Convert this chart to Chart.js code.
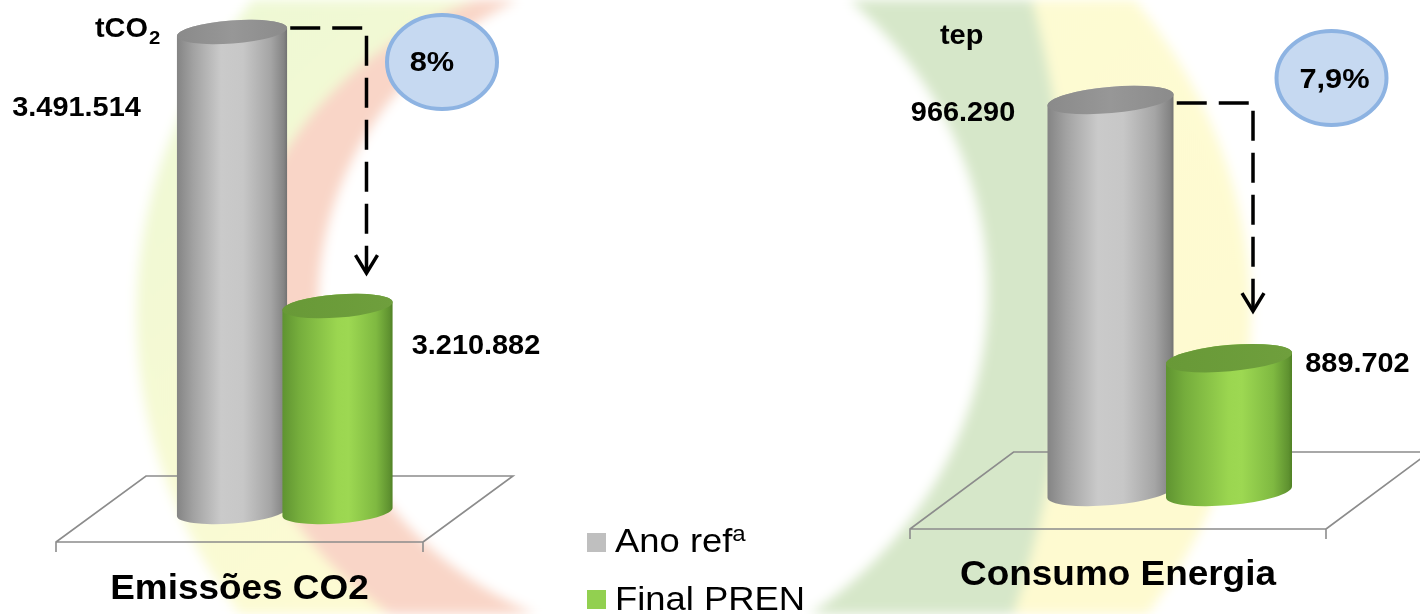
<!DOCTYPE html>
<html lang="pt">
<head>
<meta charset="utf-8">
<title>Emissões CO2 e Consumo Energia</title>
<script src="https://cdn.jsdelivr.net/npm/chart.js@4.4.1/dist/chart.umd.min.js"></script>
<style>
  html, body { margin: 0; padding: 0; background: #fff; }
  #stage { position: relative; width: 1420px; height: 614px; overflow: hidden; font-family: "Liberation Sans", Arial, sans-serif; }
  #bg { position: absolute; left: 0; top: 0; filter: blur(6px); }
  #chartCO2 { position: absolute; left: 0; top: 0; }
  #chartEnergia { position: absolute; left: 860px; top: 0; }
  .sw { position: absolute; left: 587px; width: 19px; height: 19px; }
  .lt { position: absolute; left: 615px; font-size: 32.5px; line-height: 32.5px; color: #000; white-space: nowrap; transform: scaleX(1.12); transform-origin: 0 0; }
  .lt sup { font-size: 0.66em; line-height: 0; vertical-align: baseline; position: relative; top: -0.52em; }
</style>
</head>
<body>
<div id="stage">
  <canvas id="bg" width="1420" height="614"></canvas>
  <canvas id="chartCO2" width="560" height="614"></canvas>
  <canvas id="chartEnergia" width="560" height="614"></canvas>
  <div class="sw" style="top:533px;background:#bfbfbf"></div>
  <div class="lt" style="top:525px">Ano ref<sup>a</sup></div>
  <div class="sw" style="top:590px;background:#92d050"></div>
  <div class="lt" style="top:583px">Final PREN</div>
</div>
<script>
// data
const categories = ['Emissões CO2', 'Consumo Energia'];
const seriesNames = ['Ano refª', 'Final PREN'];
const anoRef = [3491514, 966290];
const finalPren = [3210882, 889702];
const reductions = ['8%', '7,9%'];
const units = [['tCO', '2'], ['tep', '']];
const yMin = [3000000, 850000];
const yMax = [3500000, 970000];

// cylinder shading, one entry per dataset
const CYL = [
  {
    body: [[0, '#848484'], [0.15, '#a2a2a2'], [0.4, '#cacaca'], [0.6, '#c7c7c7'], [0.85, '#a5a5a5'], [0.97, '#848484'], [1, '#707070']],
    top: [[0, '#8a8a8a'], [0.5, '#979797'], [1, '#8b8b8b']]
  },
  {
    body: [[0, '#5f9331'], [0.15, '#75ad3c'], [0.5, '#9bd650'], [0.6, '#9dd852'], [0.85, '#7fb941'], [0.97, '#5f9230'], [1, '#4f8023']],
    top: [[0, '#689937'], [1, '#6f9f3d']]
  }
];

const fmt = v => String(v).replace(/\B(?=(\d{3})+(?!\d))/g, '.');

function txt(ctx, s, x, y, size, align, sx, weight) {
  ctx.save();
  ctx.font = (weight || 'bold') + ' ' + size + 'px "Liberation Sans", Arial, sans-serif';
  ctx.textBaseline = 'alphabetic';
  ctx.textAlign = align;
  ctx.translate(x, y);
  ctx.scale(sx, 1);
  ctx.fillStyle = '#000';
  ctx.fillText(s, 0, 0);
  const w = ctx.measureText(s).width * sx;
  ctx.restore();
  return w;
}

function grad(ctx, x0, x1, stops) {
  const g = ctx.createLinearGradient(x0, 0, x1, 0);
  stops.forEach(s => g.addColorStop(s[0], s[1]));
  return g;
}

function drawCylinder(ctx, bar, style, tilt, ryRatio) {
  const rx = bar.width / 2, ry = bar.width * ryRatio;
  const cx = bar.x, top = bar.y, bot = bar.base;
  const ex = rx * Math.cos(tilt), ey = rx * Math.sin(tilt);
  ctx.save();
  ctx.beginPath();
  ctx.moveTo(cx - ex, top - ey);
  ctx.lineTo(cx - ex, bot - ey);
  ctx.ellipse(cx, bot, rx, ry, tilt, Math.PI, 0, true);
  ctx.lineTo(cx + ex, top + ey);
  ctx.ellipse(cx, top, rx, ry, tilt, 0, Math.PI, true);
  ctx.closePath();
  ctx.fillStyle = grad(ctx, cx - rx, cx + rx, style.body);
  ctx.fill();
  ctx.beginPath();
  ctx.ellipse(cx, top, rx, ry, tilt, 0, Math.PI * 2);
  ctx.fillStyle = grad(ctx, cx - rx, cx + rx, style.top);
  ctx.fill();
  ctx.restore();
}

const cylinderPlugin = {
  id: 'cyl',
  beforeDatasetsDraw(chart, args, o) {
    const { ctx, chartArea } = chart;
    const base = chart.scales.y.getPixelForValue(chart.scales.y.min);
    const x0 = (chartArea.left + chartArea.right) / 2 + o.floor.dx;
    const fy = base + o.floor.front, by = base + o.floor.back;
    const hw = o.floor.hw, sh = o.floor.shift;
    ctx.save();
    ctx.strokeStyle = '#8c8c8c';
    ctx.lineWidth = 1.6;
    ctx.beginPath();
    ctx.moveTo(x0 - hw, fy + o.floor.tick);
    ctx.lineTo(x0 - hw, fy);
    ctx.lineTo(x0 - hw + sh, by);
    ctx.lineTo(x0 + hw + sh, by);
    ctx.lineTo(x0 + hw, fy);
    ctx.lineTo(x0 + hw, fy + o.floor.tick);
    ctx.moveTo(x0 - hw, fy);
    ctx.lineTo(x0 + hw, fy);
    ctx.stroke();
    ctx.restore();
  },
  afterDatasetsDraw(chart, args, o) {
    const { ctx, chartArea } = chart;
    const bars = chart.data.datasets.map((ds, i) => chart.getDatasetMeta(i).data[0]);
    bars.forEach((b, i) => drawCylinder(ctx, b, CYL[i], o.tilt, o.ryRatio));

    // value labels
    chart.data.datasets.forEach((ds, i) => {
      const b = bars[i], L = o.values[i];
      const x = L.align === 'right' ? b.x - b.width / 2 + L.dx : b.x + b.width / 2 + L.dx;
      txt(ctx, fmt(ds.data[0]), x, b.y + L.dy, 27, L.align, 1.07);
    });

    // dashed arrow from the reference bar down to the final one
    const g = bars[0], f = bars[1];
    const ax = f.x + o.arrow.dx, ay = g.y + o.arrow.dy, ey = f.y + o.arrow.end;
    ctx.save();
    ctx.strokeStyle = '#000';
    ctx.lineWidth = 3.5;
    ctx.setLineDash([30, 12]);
    ctx.beginPath();
    ctx.moveTo(g.x + g.width / 2 + 3, ay);
    ctx.lineTo(ax, ay);
    ctx.lineTo(ax, ey - 2);
    ctx.stroke();
    ctx.setLineDash([]);
    ctx.beginPath();
    ctx.moveTo(ax - 11, ey - 18);
    ctx.lineTo(ax, ey);
    ctx.lineTo(ax + 11, ey - 18);
    ctx.stroke();
    ctx.restore();

    // reduction bubble
    ctx.save();
    ctx.beginPath();
    ctx.ellipse(o.bubble.x, o.bubble.y, 55, 47, 0, 0, Math.PI * 2);
    ctx.fillStyle = '#c6d9f1';
    ctx.fill();
    ctx.lineWidth = 4;
    ctx.strokeStyle = '#8db3e2';
    ctx.stroke();
    ctx.restore();
    txt(ctx, reductions[o.idx], o.bubble.x + o.bubble.tdx, o.bubble.y + o.bubble.tdy, 28, 'center', 1.1);

    // unit
    const u = units[o.idx];
    const w = txt(ctx, u[0], o.unit.x, o.unit.y, 27, 'left', 1.07);
    if (u[1]) txt(ctx, u[1], o.unit.x + w + 1, o.unit.y + 7, 19, 'left', 1.07);

    // category label under the floor
    const cx = (chartArea.left + chartArea.right) / 2 + o.floor.dx;
    txt(ctx, chart.data.labels[0], cx, g.base + o.catDy, 35.5, 'center', 1.04);
  }
};

function buildChart(id, i, pad, catPct, barPct, deco) {
  const ds = (label, v) => ({
    label: label,
    data: [v],
    base: yMin[i],
    backgroundColor: 'rgba(0,0,0,0)',
    borderWidth: 0,
    categoryPercentage: catPct,
    barPercentage: barPct
  });
  return new Chart(document.getElementById(id), {
    type: 'bar',
    data: {
      labels: [categories[i]],
      datasets: [ds(seriesNames[0], anoRef[i]), ds(seriesNames[1], finalPren[i])]
    },
    options: {
      responsive: false,
      animation: false,
      events: [],
      layout: { padding: pad },
      scales: {
        x: { display: false },
        y: { display: false, min: yMin[i], max: yMax[i] }
      },
      plugins: {
        legend: { display: false },
        tooltip: { enabled: false },
        cyl: deco
      }
    },
    plugins: [cylinderPlugin]
  });
}

function drawBackdrop() {
  const ctx = document.getElementById('bg').getContext('2d');
  ctx.fillStyle = '#fff';
  ctx.fillRect(0, 0, 1420, 614);
  ctx.save();
  ctx.translate(672, 275);
  ctx.scale(1.082, 1);
  const circ = (x, y, r) => { ctx.moveTo(x + r, y); ctx.arc(x, y, r, 0, Math.PI * 2); };

  // yellow halo
  const yg = ctx.createLinearGradient(-400, -300, 300, 400);
  yg.addColorStop(0, '#edf8d4');
  yg.addColorStop(0.5, '#fdfbd3');
  yg.addColorStop(1, '#fefad0');
  ctx.beginPath();
  circ(20, 40, 515);
  ctx.fillStyle = yg;
  ctx.fill();

  // red crescent on the left
  ctx.save();
  ctx.beginPath();
  circ(-52, 54, 353);
  ctx.clip();
  ctx.beginPath();
  ctx.rect(-700, -400, 1400, 900);
  circ(14, 28, 341);
  ctx.fillStyle = '#f9d5c7';
  ctx.fill('evenodd');
  ctx.restore();

  // green crescent on the right
  ctx.save();
  ctx.beginPath();
  ctx.rect(0, -400, 700, 900);
  ctx.clip();
  ctx.beginPath();
  circ(-788, 1, 1154);
  ctx.clip();
  ctx.beginPath();
  ctx.rect(-700, -400, 1400, 900);
  circ(-105, 17, 397);
  ctx.fillStyle = '#d6e7c9';
  ctx.fill('evenodd');
  ctx.restore();

  // white core
  ctx.save();
  ctx.beginPath();
  circ(14, 28, 341);
  ctx.clip();
  ctx.beginPath();
  circ(-105, 17, 397);
  ctx.fillStyle = '#fff';
  ctx.fill();
  ctx.restore();

  ctx.restore();
}

drawBackdrop();

buildChart('chartCO2', 0, { left: 100, right: 90.5, top: 23.7, bottom: 102 }, 0.571, 1.047, {
  idx: 0, tilt: -0.075, ryRatio: 0.105,
  floor: { dx: -45.25, hw: 183.5, shift: 90, back: -36, front: 30, tick: 10 },
  values: [{ dx: -36, dy: 84, align: 'right' }, { dx: 19, dy: 48, align: 'left' }],
  arrow: { dx: 29, dy: -4, end: -33 },
  bubble: { x: 442, y: 62, tdx: -10, tdy: 9 },
  unit: { x: 95, y: 37 },
  catDy: 87
});

buildChart('chartEnergia', 1, { left: 100, right: 40.5, top: 87.5, bottom: 122 }, 0.565, 1.0675, {
  idx: 1, tilt: -0.09, ryRatio: 0.104,
  floor: { dx: -51.75, hw: 208, shift: 103.6, back: -40, front: 37, tick: 10 },
  values: [{ dx: -32, dy: 21, align: 'right' }, { dx: 13, dy: 14, align: 'left' }],
  arrow: { dx: 24, dy: 3, end: -47 },
  bubble: { x: 471.5, y: 78, tdx: 3, tdy: 10 },
  unit: { x: 80, y: 44 },
  catDy: 93
});
</script>
</body>
</html>
